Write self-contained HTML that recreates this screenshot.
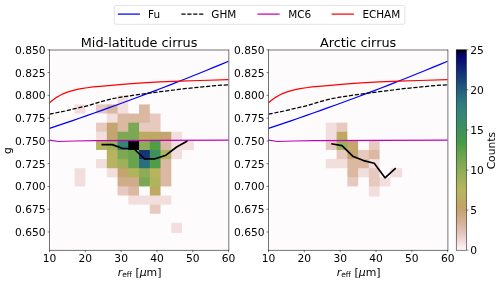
<!DOCTYPE html>
<html lang="en"><head><meta charset="utf-8"><title>Asymmetry parameter vs effective radius</title>
<style>html,body{margin:0;padding:0;background:#fff}svg{display:block}text{white-space:pre}</style></head>
<body>
<svg width="500" height="283" viewBox="0 0 500 283" font-family='DejaVu Sans, Liberation Sans, sans-serif' font-size="10.70" fill="#000">
<rect width="500" height="283" fill="#fff"/>
<rect x="49.50" y="49.80" width="179.10" height="200.40" fill="#fdfbfb"/>
<clipPath id="c1"><rect x="49.50" y="49.80" width="179.10" height="200.40"/></clipPath>
<g clip-path="url(#c1)">
<rect x="74.57" y="95.35" width="11.75" height="10.11" fill="#fdfbfb"/>
<rect x="85.32" y="95.35" width="11.75" height="10.11" fill="#fdfbfb"/>
<rect x="96.07" y="95.35" width="11.75" height="10.11" fill="#fdfbfb"/>
<rect x="106.81" y="95.35" width="11.75" height="10.11" fill="#fdfbfb"/>
<rect x="117.56" y="95.35" width="11.75" height="10.11" fill="#f2dedd"/>
<rect x="128.30" y="95.35" width="11.75" height="10.11" fill="#fdfbfb"/>
<rect x="139.05" y="95.35" width="11.75" height="10.11" fill="#fdfbfb"/>
<rect x="149.80" y="95.35" width="11.75" height="10.11" fill="#fdfbfb"/>
<rect x="160.54" y="95.35" width="11.75" height="10.11" fill="#fdfbfb"/>
<rect x="171.29" y="95.35" width="11.75" height="10.11" fill="#fdfbfb"/>
<rect x="182.03" y="95.35" width="11.75" height="10.11" fill="#fdfbfb"/>
<rect x="74.57" y="104.45" width="11.75" height="10.11" fill="#f2dedd"/>
<rect x="85.32" y="104.45" width="11.75" height="10.11" fill="#fdfbfb"/>
<rect x="96.07" y="104.45" width="11.75" height="10.11" fill="#e7c9bf"/>
<rect x="106.81" y="104.45" width="11.75" height="10.11" fill="#dbb8a2"/>
<rect x="117.56" y="104.45" width="11.75" height="10.11" fill="#f2dedd"/>
<rect x="128.30" y="104.45" width="11.75" height="10.11" fill="#fdfbfb"/>
<rect x="139.05" y="104.45" width="11.75" height="10.11" fill="#dbb8a2"/>
<rect x="149.80" y="104.45" width="11.75" height="10.11" fill="#fdfbfb"/>
<rect x="160.54" y="104.45" width="11.75" height="10.11" fill="#fdfbfb"/>
<rect x="171.29" y="104.45" width="11.75" height="10.11" fill="#fdfbfb"/>
<rect x="182.03" y="104.45" width="11.75" height="10.11" fill="#fdfbfb"/>
<rect x="74.57" y="113.56" width="11.75" height="10.11" fill="#fdfbfb"/>
<rect x="85.32" y="113.56" width="11.75" height="10.11" fill="#fdfbfb"/>
<rect x="96.07" y="113.56" width="11.75" height="10.11" fill="#fdfbfb"/>
<rect x="106.81" y="113.56" width="11.75" height="10.11" fill="#f2dedd"/>
<rect x="117.56" y="113.56" width="11.75" height="10.11" fill="#dbb8a2"/>
<rect x="128.30" y="113.56" width="11.75" height="10.11" fill="#dbb8a2"/>
<rect x="139.05" y="113.56" width="11.75" height="10.11" fill="#dbb8a2"/>
<rect x="149.80" y="113.56" width="11.75" height="10.11" fill="#e7c9bf"/>
<rect x="160.54" y="113.56" width="11.75" height="10.11" fill="#fdfbfb"/>
<rect x="171.29" y="113.56" width="11.75" height="10.11" fill="#fdfbfb"/>
<rect x="182.03" y="113.56" width="11.75" height="10.11" fill="#fdfbfb"/>
<rect x="74.57" y="122.67" width="11.75" height="10.11" fill="#fdfbfb"/>
<rect x="85.32" y="122.67" width="11.75" height="10.11" fill="#fdfbfb"/>
<rect x="96.07" y="122.67" width="11.75" height="10.11" fill="#e7c9bf"/>
<rect x="106.81" y="122.67" width="11.75" height="10.11" fill="#c4a46f"/>
<rect x="117.56" y="122.67" width="11.75" height="10.11" fill="#dbb8a2"/>
<rect x="128.30" y="122.67" width="11.75" height="10.11" fill="#7da853"/>
<rect x="139.05" y="122.67" width="11.75" height="10.11" fill="#e7c9bf"/>
<rect x="149.80" y="122.67" width="11.75" height="10.11" fill="#e7c9bf"/>
<rect x="160.54" y="122.67" width="11.75" height="10.11" fill="#fdfbfb"/>
<rect x="171.29" y="122.67" width="11.75" height="10.11" fill="#fdfbfb"/>
<rect x="182.03" y="122.67" width="11.75" height="10.11" fill="#fdfbfb"/>
<rect x="74.57" y="131.78" width="11.75" height="10.11" fill="#fdfbfb"/>
<rect x="85.32" y="131.78" width="11.75" height="10.11" fill="#fdfbfb"/>
<rect x="96.07" y="131.78" width="11.75" height="10.11" fill="#f2dedd"/>
<rect x="106.81" y="131.78" width="11.75" height="10.11" fill="#c4a46f"/>
<rect x="117.56" y="131.78" width="11.75" height="10.11" fill="#7da853"/>
<rect x="128.30" y="131.78" width="11.75" height="10.11" fill="#7da853"/>
<rect x="139.05" y="131.78" width="11.75" height="10.11" fill="#bea963"/>
<rect x="149.80" y="131.78" width="11.75" height="10.11" fill="#bea963"/>
<rect x="160.54" y="131.78" width="11.75" height="10.11" fill="#c4a46f"/>
<rect x="171.29" y="131.78" width="11.75" height="10.11" fill="#f2dedd"/>
<rect x="182.03" y="131.78" width="11.75" height="10.11" fill="#fdfbfb"/>
<rect x="74.57" y="140.89" width="11.75" height="10.11" fill="#fdfbfb"/>
<rect x="85.32" y="140.89" width="11.75" height="10.11" fill="#fdfbfb"/>
<rect x="96.07" y="140.89" width="11.75" height="10.11" fill="#b9b260"/>
<rect x="106.81" y="140.89" width="11.75" height="10.11" fill="#9eb059"/>
<rect x="117.56" y="140.89" width="11.75" height="10.11" fill="#348575"/>
<rect x="128.30" y="140.89" width="11.75" height="10.11" fill="#000000"/>
<rect x="139.05" y="140.89" width="11.75" height="10.11" fill="#8eac56"/>
<rect x="149.80" y="140.89" width="11.75" height="10.11" fill="#509d48"/>
<rect x="160.54" y="140.89" width="11.75" height="10.11" fill="#dbb8a2"/>
<rect x="171.29" y="140.89" width="11.75" height="10.11" fill="#f2dedd"/>
<rect x="182.03" y="140.89" width="11.75" height="10.11" fill="#f2dedd"/>
<rect x="74.57" y="150.00" width="11.75" height="10.11" fill="#fdfbfb"/>
<rect x="85.32" y="150.00" width="11.75" height="10.11" fill="#fdfbfb"/>
<rect x="96.07" y="150.00" width="11.75" height="10.11" fill="#fdfbfb"/>
<rect x="106.81" y="150.00" width="11.75" height="10.11" fill="#b9b260"/>
<rect x="117.56" y="150.00" width="11.75" height="10.11" fill="#7da853"/>
<rect x="128.30" y="150.00" width="11.75" height="10.11" fill="#69a34e"/>
<rect x="139.05" y="150.00" width="11.75" height="10.11" fill="#143478"/>
<rect x="149.80" y="150.00" width="11.75" height="10.11" fill="#3e915b"/>
<rect x="160.54" y="150.00" width="11.75" height="10.11" fill="#b0b55d"/>
<rect x="171.29" y="150.00" width="11.75" height="10.11" fill="#f2dedd"/>
<rect x="182.03" y="150.00" width="11.75" height="10.11" fill="#fdfbfb"/>
<rect x="74.57" y="159.11" width="11.75" height="10.11" fill="#fdfbfb"/>
<rect x="85.32" y="159.11" width="11.75" height="10.11" fill="#fdfbfb"/>
<rect x="96.07" y="159.11" width="11.75" height="10.11" fill="#f2dedd"/>
<rect x="106.81" y="159.11" width="11.75" height="10.11" fill="#b9b260"/>
<rect x="117.56" y="159.11" width="11.75" height="10.11" fill="#9eb059"/>
<rect x="128.30" y="159.11" width="11.75" height="10.11" fill="#69a34e"/>
<rect x="139.05" y="159.11" width="11.75" height="10.11" fill="#296f7e"/>
<rect x="149.80" y="159.11" width="11.75" height="10.11" fill="#509d48"/>
<rect x="160.54" y="159.11" width="11.75" height="10.11" fill="#dbb8a2"/>
<rect x="171.29" y="159.11" width="11.75" height="10.11" fill="#fdfbfb"/>
<rect x="182.03" y="159.11" width="11.75" height="10.11" fill="#fdfbfb"/>
<rect x="74.57" y="168.22" width="11.75" height="10.11" fill="#f2dedd"/>
<rect x="85.32" y="168.22" width="11.75" height="10.11" fill="#fdfbfb"/>
<rect x="96.07" y="168.22" width="11.75" height="10.11" fill="#fdfbfb"/>
<rect x="106.81" y="168.22" width="11.75" height="10.11" fill="#f2dedd"/>
<rect x="117.56" y="168.22" width="11.75" height="10.11" fill="#c4a46f"/>
<rect x="128.30" y="168.22" width="11.75" height="10.11" fill="#b0b55d"/>
<rect x="139.05" y="168.22" width="11.75" height="10.11" fill="#8eac56"/>
<rect x="149.80" y="168.22" width="11.75" height="10.11" fill="#b9b260"/>
<rect x="160.54" y="168.22" width="11.75" height="10.11" fill="#dbb8a2"/>
<rect x="171.29" y="168.22" width="11.75" height="10.11" fill="#fdfbfb"/>
<rect x="182.03" y="168.22" width="11.75" height="10.11" fill="#fdfbfb"/>
<rect x="74.57" y="177.33" width="11.75" height="10.11" fill="#f2dedd"/>
<rect x="85.32" y="177.33" width="11.75" height="10.11" fill="#fdfbfb"/>
<rect x="96.07" y="177.33" width="11.75" height="10.11" fill="#fdfbfb"/>
<rect x="106.81" y="177.33" width="11.75" height="10.11" fill="#fdfbfb"/>
<rect x="117.56" y="177.33" width="11.75" height="10.11" fill="#d0ad8a"/>
<rect x="128.30" y="177.33" width="11.75" height="10.11" fill="#d0ad8a"/>
<rect x="139.05" y="177.33" width="11.75" height="10.11" fill="#7da853"/>
<rect x="149.80" y="177.33" width="11.75" height="10.11" fill="#b0b55d"/>
<rect x="160.54" y="177.33" width="11.75" height="10.11" fill="#dbb8a2"/>
<rect x="171.29" y="177.33" width="11.75" height="10.11" fill="#fdfbfb"/>
<rect x="182.03" y="177.33" width="11.75" height="10.11" fill="#fdfbfb"/>
<rect x="74.57" y="186.44" width="11.75" height="10.11" fill="#fdfbfb"/>
<rect x="85.32" y="186.44" width="11.75" height="10.11" fill="#fdfbfb"/>
<rect x="96.07" y="186.44" width="11.75" height="10.11" fill="#fdfbfb"/>
<rect x="106.81" y="186.44" width="11.75" height="10.11" fill="#fdfbfb"/>
<rect x="117.56" y="186.44" width="11.75" height="10.11" fill="#e7c9bf"/>
<rect x="128.30" y="186.44" width="11.75" height="10.11" fill="#dbb8a2"/>
<rect x="139.05" y="186.44" width="11.75" height="10.11" fill="#fdfbfb"/>
<rect x="149.80" y="186.44" width="11.75" height="10.11" fill="#bea963"/>
<rect x="160.54" y="186.44" width="11.75" height="10.11" fill="#fdfbfb"/>
<rect x="171.29" y="186.44" width="11.75" height="10.11" fill="#fdfbfb"/>
<rect x="182.03" y="186.44" width="11.75" height="10.11" fill="#fdfbfb"/>
<rect x="74.57" y="195.55" width="11.75" height="10.11" fill="#fdfbfb"/>
<rect x="85.32" y="195.55" width="11.75" height="10.11" fill="#fdfbfb"/>
<rect x="96.07" y="195.55" width="11.75" height="10.11" fill="#fdfbfb"/>
<rect x="106.81" y="195.55" width="11.75" height="10.11" fill="#fdfbfb"/>
<rect x="117.56" y="195.55" width="11.75" height="10.11" fill="#fdfbfb"/>
<rect x="128.30" y="195.55" width="11.75" height="10.11" fill="#f2dedd"/>
<rect x="139.05" y="195.55" width="11.75" height="10.11" fill="#f2dedd"/>
<rect x="149.80" y="195.55" width="11.75" height="10.11" fill="#f2dedd"/>
<rect x="160.54" y="195.55" width="11.75" height="10.11" fill="#f2dedd"/>
<rect x="171.29" y="195.55" width="11.75" height="10.11" fill="#fdfbfb"/>
<rect x="182.03" y="195.55" width="11.75" height="10.11" fill="#fdfbfb"/>
<rect x="74.57" y="204.65" width="11.75" height="10.11" fill="#fdfbfb"/>
<rect x="85.32" y="204.65" width="11.75" height="10.11" fill="#fdfbfb"/>
<rect x="96.07" y="204.65" width="11.75" height="10.11" fill="#fdfbfb"/>
<rect x="106.81" y="204.65" width="11.75" height="10.11" fill="#fdfbfb"/>
<rect x="117.56" y="204.65" width="11.75" height="10.11" fill="#fdfbfb"/>
<rect x="128.30" y="204.65" width="11.75" height="10.11" fill="#fdfbfb"/>
<rect x="139.05" y="204.65" width="11.75" height="10.11" fill="#fdfbfb"/>
<rect x="149.80" y="204.65" width="11.75" height="10.11" fill="#e7c9bf"/>
<rect x="160.54" y="204.65" width="11.75" height="10.11" fill="#fdfbfb"/>
<rect x="171.29" y="204.65" width="11.75" height="10.11" fill="#fdfbfb"/>
<rect x="182.03" y="204.65" width="11.75" height="10.11" fill="#fdfbfb"/>
<rect x="74.57" y="213.76" width="11.75" height="10.11" fill="#fdfbfb"/>
<rect x="85.32" y="213.76" width="11.75" height="10.11" fill="#fdfbfb"/>
<rect x="96.07" y="213.76" width="11.75" height="10.11" fill="#fdfbfb"/>
<rect x="106.81" y="213.76" width="11.75" height="10.11" fill="#fdfbfb"/>
<rect x="117.56" y="213.76" width="11.75" height="10.11" fill="#fdfbfb"/>
<rect x="128.30" y="213.76" width="11.75" height="10.11" fill="#fdfbfb"/>
<rect x="139.05" y="213.76" width="11.75" height="10.11" fill="#fdfbfb"/>
<rect x="149.80" y="213.76" width="11.75" height="10.11" fill="#fdfbfb"/>
<rect x="160.54" y="213.76" width="11.75" height="10.11" fill="#fdfbfb"/>
<rect x="171.29" y="213.76" width="11.75" height="10.11" fill="#fdfbfb"/>
<rect x="182.03" y="213.76" width="11.75" height="10.11" fill="#fdfbfb"/>
<rect x="74.57" y="222.87" width="11.75" height="10.11" fill="#fdfbfb"/>
<rect x="85.32" y="222.87" width="11.75" height="10.11" fill="#fdfbfb"/>
<rect x="96.07" y="222.87" width="11.75" height="10.11" fill="#fdfbfb"/>
<rect x="106.81" y="222.87" width="11.75" height="10.11" fill="#fdfbfb"/>
<rect x="117.56" y="222.87" width="11.75" height="10.11" fill="#fdfbfb"/>
<rect x="128.30" y="222.87" width="11.75" height="10.11" fill="#fdfbfb"/>
<rect x="139.05" y="222.87" width="11.75" height="10.11" fill="#fdfbfb"/>
<rect x="149.80" y="222.87" width="11.75" height="10.11" fill="#fdfbfb"/>
<rect x="160.54" y="222.87" width="11.75" height="10.11" fill="#fdfbfb"/>
<rect x="171.29" y="222.87" width="11.75" height="10.11" fill="#f2dedd"/>
<rect x="182.03" y="222.87" width="11.75" height="10.11" fill="#fdfbfb"/>
<g fill="none" stroke-width="1.25" stroke-linejoin="round">
<path d="M49.50 128.32 L56.96 125.84 L64.42 123.33 L71.89 120.79 L79.35 118.23 L86.81 115.64 L94.28 113.02 L101.74 110.38 L109.20 107.71 L116.66 105.01 L124.12 102.28 L131.59 99.53 L139.05 96.75 L146.51 93.94 L153.97 91.10 L161.44 88.24 L168.90 85.35 L176.36 82.43 L183.82 79.49 L191.29 76.52 L198.75 73.52 L206.21 70.50 L213.67 67.44 L221.14 64.36 L228.60 61.26" stroke="#0000ff"/>
<path d="M49.50 114.20 L65.00 111.00 L75.00 108.60 L85.00 106.40 L95.00 103.60 L100.00 101.90 L112.00 98.80 L124.00 96.70 L136.10 94.90 L148.10 93.20 L160.00 91.70 L174.10 90.00 L188.30 88.30 L202.40 86.90 L216.60 85.50 L228.60 84.75" stroke="#000" stroke-dasharray="4.2 1.7"/>
<path d="M49.50 140.20 L58.50 141.50 L75.00 141.00 L95.00 140.70 L228.60 140.20" stroke="#bf00bf"/>
<path d="M49.50 102.90 L52.20 100.50 L54.60 98.70 L57.00 97.10 L59.40 95.70 L63.00 93.80 L66.60 92.40 L71.40 90.90 L76.25 89.70 L81.10 88.70 L87.10 87.75 L93.10 86.95 L100.00 86.35 L114.10 85.10 L128.30 83.95 L142.40 82.90 L160.00 81.90 L180.00 81.20 L200.00 80.50 L228.60 79.55" stroke="#ff0000"/>
<path d="M101.44 144.60 L112.19 144.60 L122.93 148.50 L133.68 148.50 L144.42 158.80 L155.17 158.80 L165.92 155.20 L176.66 147.00 L187.41 141.00" stroke="#000" stroke-width="1.65"/>
</g></g>
<path d="M49.50 49.60 V250.60 M228.80 49.60 V250.60 M49.30 50.00 H228.90 M49.30 250.40 H228.90" fill="none" stroke="#000" stroke-width="0.55"/>
<path d="M49.50 250.20 v2 M85.32 250.20 v2 M121.14 250.20 v2 M156.96 250.20 v2 M192.78 250.20 v2 M228.60 250.20 v2 M49.50 231.98 h-2 M49.50 209.21 h-2 M49.50 186.44 h-2 M49.50 163.66 h-2 M49.50 140.89 h-2 M49.50 118.12 h-2 M49.50 95.35 h-2 M49.50 72.57 h-2 M49.50 49.80 h-2" stroke="#000" stroke-width="0.5" fill="none"/>
<text x="49.50" y="262.45" text-anchor="middle">10</text>
<text x="85.32" y="262.45" text-anchor="middle">20</text>
<text x="121.14" y="262.45" text-anchor="middle">30</text>
<text x="156.96" y="262.45" text-anchor="middle">40</text>
<text x="192.78" y="262.45" text-anchor="middle">50</text>
<text x="228.60" y="262.45" text-anchor="middle">60</text>
<text x="45.60" y="235.93" text-anchor="end">0.650</text>
<text x="45.60" y="213.16" text-anchor="end">0.675</text>
<text x="45.60" y="190.39" text-anchor="end">0.700</text>
<text x="45.60" y="167.61" text-anchor="end">0.725</text>
<text x="45.60" y="144.84" text-anchor="end">0.750</text>
<text x="45.60" y="122.07" text-anchor="end">0.775</text>
<text x="45.60" y="99.30" text-anchor="end">0.800</text>
<text x="45.60" y="76.52" text-anchor="end">0.825</text>
<text x="45.60" y="53.75" text-anchor="end">0.850</text>
<text x="139.05" y="46.6" text-anchor="middle" font-size="12.85">Mid-latitude cirrus</text>
<text x="139.55" y="275.8" text-anchor="middle" font-size="10.9"><tspan font-style="italic">r</tspan><tspan font-size="7.5" dy="1.6">eff</tspan><tspan dy="-1.6"> [</tspan><tspan font-style="italic">μ</tspan>m]</text>
<rect x="268.50" y="49.80" width="179.20" height="200.40" fill="#fdfbfb"/>
<clipPath id="c2"><rect x="268.50" y="49.80" width="179.20" height="200.40"/></clipPath>
<g clip-path="url(#c2)">
<rect x="325.84" y="122.67" width="11.75" height="10.11" fill="#f2dedd"/>
<rect x="336.60" y="122.67" width="11.75" height="10.11" fill="#e7c9bf"/>
<rect x="347.35" y="122.67" width="11.75" height="10.11" fill="#fdfbfb"/>
<rect x="358.10" y="122.67" width="11.75" height="10.11" fill="#fdfbfb"/>
<rect x="368.85" y="122.67" width="11.75" height="10.11" fill="#fdfbfb"/>
<rect x="379.60" y="122.67" width="11.75" height="10.11" fill="#fdfbfb"/>
<rect x="390.36" y="122.67" width="11.75" height="10.11" fill="#fdfbfb"/>
<rect x="325.84" y="131.78" width="11.75" height="10.11" fill="#f2dedd"/>
<rect x="336.60" y="131.78" width="11.75" height="10.11" fill="#bea963"/>
<rect x="347.35" y="131.78" width="11.75" height="10.11" fill="#fdfbfb"/>
<rect x="358.10" y="131.78" width="11.75" height="10.11" fill="#fdfbfb"/>
<rect x="368.85" y="131.78" width="11.75" height="10.11" fill="#fdfbfb"/>
<rect x="379.60" y="131.78" width="11.75" height="10.11" fill="#fdfbfb"/>
<rect x="390.36" y="131.78" width="11.75" height="10.11" fill="#fdfbfb"/>
<rect x="325.84" y="140.89" width="11.75" height="10.11" fill="#e7c9bf"/>
<rect x="336.60" y="140.89" width="11.75" height="10.11" fill="#9eb059"/>
<rect x="347.35" y="140.89" width="11.75" height="10.11" fill="#c4a46f"/>
<rect x="358.10" y="140.89" width="11.75" height="10.11" fill="#fdfbfb"/>
<rect x="368.85" y="140.89" width="11.75" height="10.11" fill="#e7c9bf"/>
<rect x="379.60" y="140.89" width="11.75" height="10.11" fill="#fdfbfb"/>
<rect x="390.36" y="140.89" width="11.75" height="10.11" fill="#fdfbfb"/>
<rect x="325.84" y="150.00" width="11.75" height="10.11" fill="#fdfbfb"/>
<rect x="336.60" y="150.00" width="11.75" height="10.11" fill="#e7c9bf"/>
<rect x="347.35" y="150.00" width="11.75" height="10.11" fill="#c4a46f"/>
<rect x="358.10" y="150.00" width="11.75" height="10.11" fill="#e7c9bf"/>
<rect x="368.85" y="150.00" width="11.75" height="10.11" fill="#dbb8a2"/>
<rect x="379.60" y="150.00" width="11.75" height="10.11" fill="#fdfbfb"/>
<rect x="390.36" y="150.00" width="11.75" height="10.11" fill="#fdfbfb"/>
<rect x="325.84" y="159.11" width="11.75" height="10.11" fill="#f2dedd"/>
<rect x="336.60" y="159.11" width="11.75" height="10.11" fill="#f2dedd"/>
<rect x="347.35" y="159.11" width="11.75" height="10.11" fill="#dbb8a2"/>
<rect x="358.10" y="159.11" width="11.75" height="10.11" fill="#dbb8a2"/>
<rect x="368.85" y="159.11" width="11.75" height="10.11" fill="#f2dedd"/>
<rect x="379.60" y="159.11" width="11.75" height="10.11" fill="#fdfbfb"/>
<rect x="390.36" y="159.11" width="11.75" height="10.11" fill="#fdfbfb"/>
<rect x="325.84" y="168.22" width="11.75" height="10.11" fill="#fdfbfb"/>
<rect x="336.60" y="168.22" width="11.75" height="10.11" fill="#fdfbfb"/>
<rect x="347.35" y="168.22" width="11.75" height="10.11" fill="#dbb8a2"/>
<rect x="358.10" y="168.22" width="11.75" height="10.11" fill="#f2dedd"/>
<rect x="368.85" y="168.22" width="11.75" height="10.11" fill="#e7c9bf"/>
<rect x="379.60" y="168.22" width="11.75" height="10.11" fill="#fdfbfb"/>
<rect x="390.36" y="168.22" width="11.75" height="10.11" fill="#f2dedd"/>
<rect x="325.84" y="177.33" width="11.75" height="10.11" fill="#fdfbfb"/>
<rect x="336.60" y="177.33" width="11.75" height="10.11" fill="#fdfbfb"/>
<rect x="347.35" y="177.33" width="11.75" height="10.11" fill="#e7c9bf"/>
<rect x="358.10" y="177.33" width="11.75" height="10.11" fill="#fdfbfb"/>
<rect x="368.85" y="177.33" width="11.75" height="10.11" fill="#e7c9bf"/>
<rect x="379.60" y="177.33" width="11.75" height="10.11" fill="#f2dedd"/>
<rect x="390.36" y="177.33" width="11.75" height="10.11" fill="#fdfbfb"/>
<rect x="325.84" y="186.44" width="11.75" height="10.11" fill="#fdfbfb"/>
<rect x="336.60" y="186.44" width="11.75" height="10.11" fill="#fdfbfb"/>
<rect x="347.35" y="186.44" width="11.75" height="10.11" fill="#fdfbfb"/>
<rect x="358.10" y="186.44" width="11.75" height="10.11" fill="#fdfbfb"/>
<rect x="368.85" y="186.44" width="11.75" height="10.11" fill="#f2dedd"/>
<rect x="379.60" y="186.44" width="11.75" height="10.11" fill="#fdfbfb"/>
<rect x="390.36" y="186.44" width="11.75" height="10.11" fill="#fdfbfb"/>
<g fill="none" stroke-width="1.25" stroke-linejoin="round">
<path d="M268.50 128.32 L275.96 125.84 L283.43 123.33 L290.89 120.79 L298.35 118.23 L305.81 115.64 L313.27 113.02 L320.74 110.38 L328.20 107.71 L335.66 105.01 L343.12 102.28 L350.59 99.53 L358.05 96.75 L365.51 93.94 L372.98 91.10 L380.44 88.24 L387.90 85.35 L395.36 82.43 L402.82 79.49 L410.29 76.52 L417.75 73.52 L425.21 70.50 L432.67 67.44 L440.14 64.36 L447.60 61.26" stroke="#0000ff"/>
<path d="M268.50 114.20 L284.00 111.00 L294.00 108.60 L304.00 106.40 L314.00 103.60 L319.00 101.90 L331.00 98.80 L343.00 96.70 L355.10 94.90 L367.10 93.20 L379.00 91.70 L393.10 90.00 L407.30 88.30 L421.40 86.90 L435.60 85.50 L447.60 84.75" stroke="#000" stroke-dasharray="4.2 1.7"/>
<path d="M268.50 140.20 L277.50 141.50 L294.00 141.00 L314.00 140.70 L447.60 140.20" stroke="#bf00bf"/>
<path d="M268.50 102.90 L271.20 100.50 L273.60 98.70 L276.00 97.10 L278.40 95.70 L282.00 93.80 L285.60 92.40 L290.40 90.90 L295.25 89.70 L300.10 88.70 L306.10 87.75 L312.10 86.95 L319.00 86.35 L333.10 85.10 L347.30 83.95 L361.40 82.90 L379.00 81.90 L399.00 81.20 L419.00 80.50 L447.60 79.55" stroke="#ff0000"/>
<path d="M331.22 143.70 L341.97 145.60 L352.72 156.20 L363.48 160.60 L374.23 163.20 L384.98 177.80 L395.73 168.20" stroke="#000" stroke-width="1.65"/>
</g></g>
<path d="M268.50 49.60 V250.60 M447.90 49.60 V250.60 M268.30 50.00 H448.00 M268.30 250.40 H448.00" fill="none" stroke="#000" stroke-width="0.55"/>
<path d="M268.50 250.20 v2 M304.34 250.20 v2 M340.18 250.20 v2 M376.02 250.20 v2 M411.86 250.20 v2 M447.70 250.20 v2 M268.50 231.98 h-2 M268.50 209.21 h-2 M268.50 186.44 h-2 M268.50 163.66 h-2 M268.50 140.89 h-2 M268.50 118.12 h-2 M268.50 95.35 h-2 M268.50 72.57 h-2 M268.50 49.80 h-2" stroke="#000" stroke-width="0.5" fill="none"/>
<text x="268.50" y="262.45" text-anchor="middle">10</text>
<text x="304.34" y="262.45" text-anchor="middle">20</text>
<text x="340.18" y="262.45" text-anchor="middle">30</text>
<text x="376.02" y="262.45" text-anchor="middle">40</text>
<text x="411.86" y="262.45" text-anchor="middle">50</text>
<text x="447.70" y="262.45" text-anchor="middle">60</text>
<text x="264.60" y="235.93" text-anchor="end">0.650</text>
<text x="264.60" y="213.16" text-anchor="end">0.675</text>
<text x="264.60" y="190.39" text-anchor="end">0.700</text>
<text x="264.60" y="167.61" text-anchor="end">0.725</text>
<text x="264.60" y="144.84" text-anchor="end">0.750</text>
<text x="264.60" y="122.07" text-anchor="end">0.775</text>
<text x="264.60" y="99.30" text-anchor="end">0.800</text>
<text x="264.60" y="76.52" text-anchor="end">0.825</text>
<text x="264.60" y="53.75" text-anchor="end">0.850</text>
<text x="358.10" y="46.6" text-anchor="middle" font-size="12.85">Arctic cirrus</text>
<text x="358.60" y="275.8" text-anchor="middle" font-size="10.9"><tspan font-style="italic">r</tspan><tspan font-size="7.5" dy="1.6">eff</tspan><tspan dy="-1.6"> [</tspan><tspan font-style="italic">μ</tspan>m]</text>
<text transform="translate(11.2 150.6) rotate(-90)" text-anchor="middle">g</text>
<defs><linearGradient id="cb" x1="0" y1="0" x2="0" y2="1"><stop offset="0.000" stop-color="#000000"/><stop offset="0.020" stop-color="#030059"/><stop offset="0.040" stop-color="#070774"/><stop offset="0.060" stop-color="#0a1275"/><stop offset="0.080" stop-color="#0d1e76"/><stop offset="0.100" stop-color="#112977"/><stop offset="0.120" stop-color="#143478"/><stop offset="0.140" stop-color="#173f79"/><stop offset="0.160" stop-color="#1b497a"/><stop offset="0.180" stop-color="#1f557b"/><stop offset="0.200" stop-color="#225e7c"/><stop offset="0.220" stop-color="#25677d"/><stop offset="0.240" stop-color="#296f7e"/><stop offset="0.260" stop-color="#2c777f"/><stop offset="0.280" stop-color="#2f7e7f"/><stop offset="0.300" stop-color="#32827b"/><stop offset="0.320" stop-color="#348575"/><stop offset="0.340" stop-color="#37896d"/><stop offset="0.360" stop-color="#398c67"/><stop offset="0.380" stop-color="#3c8e61"/><stop offset="0.400" stop-color="#3e915b"/><stop offset="0.420" stop-color="#409455"/><stop offset="0.440" stop-color="#43974f"/><stop offset="0.460" stop-color="#459a49"/><stop offset="0.480" stop-color="#509d48"/><stop offset="0.500" stop-color="#5ba04b"/><stop offset="0.520" stop-color="#69a34e"/><stop offset="0.540" stop-color="#74a551"/><stop offset="0.560" stop-color="#7da853"/><stop offset="0.580" stop-color="#86aa55"/><stop offset="0.600" stop-color="#8eac56"/><stop offset="0.620" stop-color="#96ae58"/><stop offset="0.640" stop-color="#9eb059"/><stop offset="0.660" stop-color="#a7b25b"/><stop offset="0.680" stop-color="#b0b55d"/><stop offset="0.700" stop-color="#b7b65e"/><stop offset="0.720" stop-color="#b9b260"/><stop offset="0.740" stop-color="#bcad62"/><stop offset="0.760" stop-color="#bea963"/><stop offset="0.780" stop-color="#c0a565"/><stop offset="0.800" stop-color="#c4a46f"/><stop offset="0.820" stop-color="#caa87b"/><stop offset="0.840" stop-color="#d0ad8a"/><stop offset="0.860" stop-color="#d6b196"/><stop offset="0.880" stop-color="#dbb8a2"/><stop offset="0.900" stop-color="#e1bfb0"/><stop offset="0.920" stop-color="#e7c9bf"/><stop offset="0.940" stop-color="#ecd3ce"/><stop offset="0.960" stop-color="#f2dedd"/><stop offset="0.980" stop-color="#f7ecec"/><stop offset="1.000" stop-color="#fdfbfb"/></linearGradient></defs>
<rect x="456.20" y="49.80" width="10.20" height="200.40" fill="url(#cb)" stroke="#000" stroke-width="0.5"/>
<text x="470.2" y="254.15">0</text>
<text x="470.2" y="214.07">5</text>
<text x="470.2" y="173.99">10</text>
<text x="470.2" y="133.91">15</text>
<text x="470.2" y="93.83">20</text>
<text x="470.2" y="53.75">25</text>
<path d="M466.40 250.20 h2 M466.40 210.12 h2 M466.40 170.04 h2 M466.40 129.96 h2 M466.40 89.88 h2 M466.40 49.80 h2" stroke="#000" stroke-width="0.5" fill="none"/>
<text transform="translate(494.6 150.7) rotate(-90)" text-anchor="middle">Counts</text>
<rect x="114.3" y="5.6" width="290.6" height="18.7" rx="1.6" fill="#fff" stroke="#d0d0d0" stroke-width="0.6"/>
<g fill="none" stroke-width="1.25">
<path d="M117.8 14.1 H139.9" stroke="#0000ff"/>
<path d="M181.4 14.1 H203.3" stroke="#000" stroke-dasharray="4.2 1.7"/>
<path d="M257.4 14.1 H279.6" stroke="#bf00bf"/>
<path d="M331.6 14.1 H353.9" stroke="#ff0000"/>
</g>
<g font-size="10.45">
<text x="148.1" y="17.65">Fu</text>
<text x="211.3" y="17.65">GHM</text>
<text x="288.2" y="17.65">MC6</text>
<text x="362.4" y="17.65">ECHAM</text>
</g>
</svg>
</body></html>
